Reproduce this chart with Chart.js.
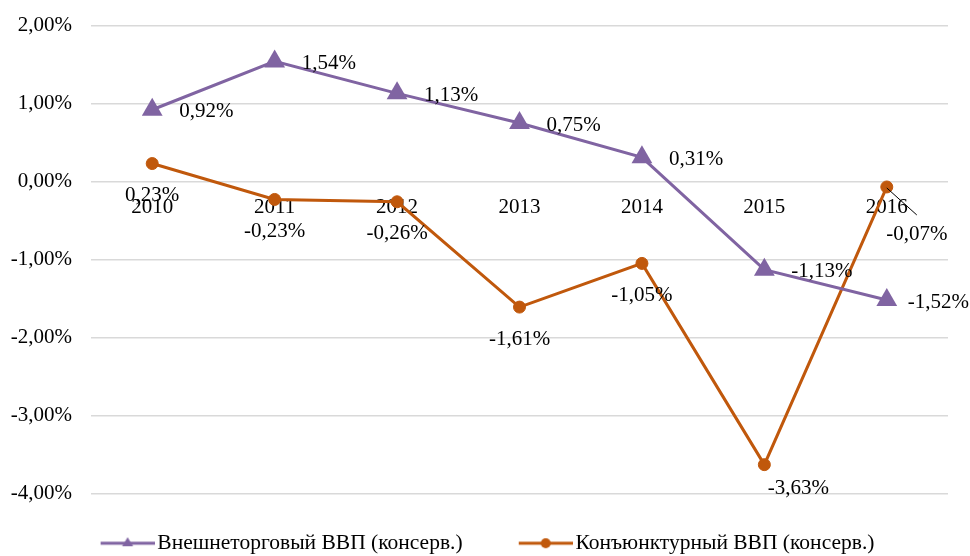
<!DOCTYPE html>
<html>
<head>
<meta charset="utf-8">
<script src="https://cdn.jsdelivr.net/npm/chart.js@4.4.0/dist/chart.umd.min.js"></script>
<style>
    html, body { margin: 0; padding: 0; background: #fff; }
    #wrap { width: 970px; height: 556px; }
</style>
</head>
<body>
<div id="wrap"><canvas id="gdp-chart" width="970" height="556"></canvas></div>
<script>
const years = ['2010', '2011', '2012', '2013', '2014', '2015', '2016'];
const foreignTradeGdp = [0.92, 1.54, 1.13, 0.75, 0.31, -1.13, -1.52];
const businessCycleGdp = [0.23, -0.23, -0.26, -1.61, -1.05, -3.63, -0.07];
const seriesNames = ['Внешнеторговый ВВП (консерв.)', 'Конъюнктурный ВВП (консерв.)'];

const PURPLE = '#8064A2';
const ORANGE = '#C0580C';
const FONT = 'Liberation Serif, Times New Roman, serif';

function pct(v) {
    return v.toFixed(2).replace('.', ',') + '%';
}

// small line+marker picture for legend entries
function legendIcon(color, marker) {
    const c = document.createElement('canvas');
    c.width = 63;
    c.height = 20;
    const ctx = c.getContext('2d');
    ctx.strokeStyle = color;
    ctx.lineWidth = 3;
    ctx.beginPath();
    ctx.moveTo(9, 10);
    ctx.lineTo(63, 10);
    ctx.stroke();
    ctx.fillStyle = color;
    ctx.beginPath();
    if (marker === 'triangle') {
        ctx.moveTo(36, 4);
        ctx.lineTo(41.5, 13);
        ctx.lineTo(30.5, 13);
        ctx.closePath();
    } else {
        ctx.arc(36, 10, 5, 0, Math.PI * 2);
    }
    ctx.fill();
    return c;
}

// the left padding only serves to centre the legend; let y labels use it
const widenAxis = {
    id: 'widenAxis',
    afterLayout(chart) {
        chart.scales.y.left = 0;
    }
};

const valueLabels = {
    id: 'valueLabels',
    afterDatasetsDraw(chart) {
        const ctx = chart.ctx;
        ctx.save();
        ctx.font = '21px ' + FONT;
        ctx.fillStyle = '#000';
        ctx.textBaseline = 'middle';

        // upper series: labels to the right, kept inside the canvas
        chart.getDatasetMeta(0).data.forEach((pt, i) => {
            const txt = pct(foreignTradeGdp[i]);
            const w = ctx.measureText(txt).width;
            ctx.textAlign = 'left';
            ctx.fillText(txt, Math.min(pt.x + 27, chart.width - w - 1), pt.y + 2);
        });

        // lower series: labels below
        const last = businessCycleGdp.length - 1;
        chart.getDatasetMeta(1).data.forEach((pt, i) => {
            const txt = pct(businessCycleGdp[i]);
            ctx.textAlign = 'center';
            if (i === last) {
                ctx.strokeStyle = '#000';
                ctx.lineWidth = 1;
                ctx.beginPath();
                ctx.moveTo(pt.x, pt.y + 1);
                ctx.lineTo(pt.x + 30, pt.y + 28);
                ctx.stroke();
                ctx.fillText(txt, pt.x + 30, pt.y + 48);
            } else if (pt.y + 32 > chart.chartArea.bottom - 10) {
                ctx.fillText(txt, pt.x + 34, pt.y + 24);
            } else {
                ctx.fillText(txt, pt.x, pt.y + 32);
            }
        });
        ctx.restore();
    }
};

new Chart(document.getElementById('gdp-chart').getContext('2d'), {
    type: 'line',
    data: {
        labels: years,
        datasets: [
            {
                label: seriesNames[0],
                data: foreignTradeGdp,
                borderColor: PURPLE,
                backgroundColor: PURPLE,
                borderWidth: 3,
                pointStyle: 'triangle',
                pointRadius: 12,
                pointBorderWidth: 0,
                tension: 0
            },
            {
                label: seriesNames[1],
                data: businessCycleGdp,
                borderColor: ORANGE,
                backgroundColor: ORANGE,
                borderWidth: 3,
                pointStyle: 'circle',
                pointRadius: 6,
                pointBorderWidth: 1,
                tension: 0
            }
        ]
    },
    options: {
        responsive: false,
        animation: false,
        layout: {
            padding: { left: 26, right: 22, top: 25.5, bottom: -8 }
        },
        scales: {
            x: {
                type: 'category',
                position: { y: 0 },
                offset: true,
                grid: { display: false },
                border: { display: false },
                ticks: {
                    color: '#000',
                    font: { family: FONT, size: 21 },
                    padding: 5,
                    maxRotation: 0
                }
            },
            y: {
                min: -4,
                max: 2,
                afterFit(scale) {
                    scale.width = 65;
                },
                grid: {
                    color: '#D9D9D9',
                    lineWidth: 1.5,
                    drawTicks: false
                },
                border: { display: false },
                ticks: {
                    stepSize: 1,
                    color: '#000',
                    font: { family: FONT, size: 21, lineHeight: 0.6 },
                    padding: 19,
                    callback: (v) => pct(v)
                }
            }
        },
        plugins: {
            legend: {
                position: 'bottom',
                labels: {
                    usePointStyle: true,
                    pointStyleWidth: 47,
                    padding: 39,
                    color: '#000',
                    font: { family: FONT, size: 21.5 },
                    generateLabels(chart) {
                        return chart.data.datasets.map((ds, i) => ({
                            // trailing spaces widen the gap between the two entries
                            text: i === 0 ? ds.label + '   ' : ds.label,
                            datasetIndex: i,
                            fontColor: '#000',
                            pointStyle: legendIcon(ds.borderColor, ds.pointStyle),
                            lineWidth: 0,
                            strokeStyle: ds.borderColor,
                            fillStyle: ds.borderColor,
                            hidden: false
                        }));
                    }
                }
            },
            tooltip: { enabled: false }
        }
    },
    plugins: [valueLabels, widenAxis]
});
</script>
</body>
</html>
